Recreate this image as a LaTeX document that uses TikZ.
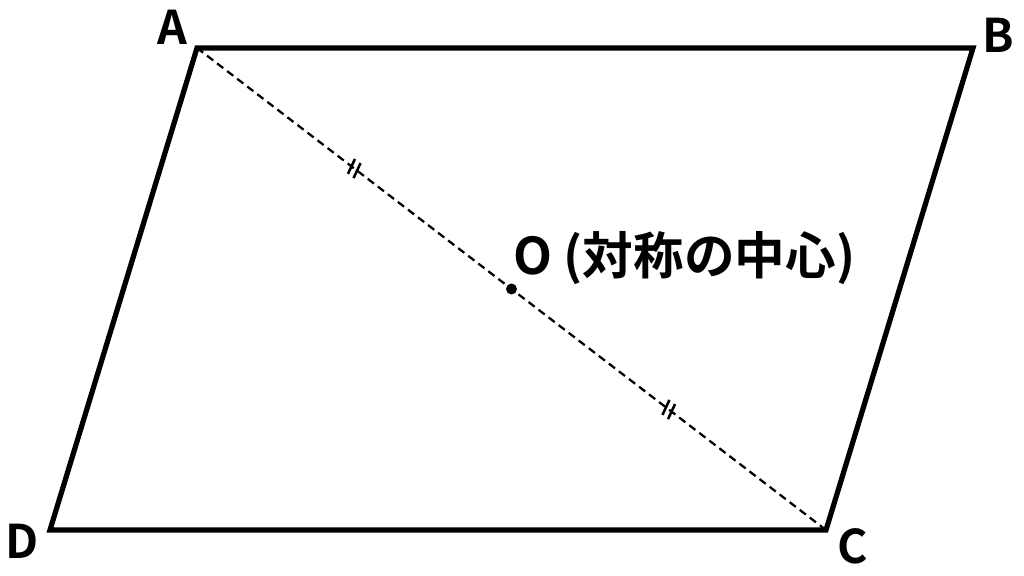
\documentclass[tikz,border=0pt]{standalone}
\usepackage{fontspec}
\setmainfont{Noto Sans CJK JP}[BoldFont={Noto Sans CJK JP Bold}]
\usetikzlibrary{calc}

\tikzset{
  side/.style = {line width=3.7pt, line join=miter},
  diag/.style = {line width=1.6pt, dash pattern=on 5.5pt off 3.5pt},
  tick/.style = {line width=1.8pt},
  vlabel/.style = {anchor=base, inner sep=0pt, font=\fontsize{33}{36}\selectfont\bfseries}
}

\begin{document}
\begin{tikzpicture}[x=0.025cm, y=-0.025cm]

\useasboundingbox (0,0) rectangle (1024,576);

\coordinate (A) at (197,48);
\coordinate (B) at (973,48);
\coordinate (C) at (826,530);
\coordinate (D) at (50,530);
\coordinate (O) at ($(A)!0.5!(C)$);

\draw [diag] (A) -- (C);
\draw [side] (A) -- (B) -- (C) -- (D) -- cycle;
\fill (O) circle (5.5);

\coordinate (t1) at ($(A)!0.25!(C)$);
\coordinate (t2) at ($(A)!0.75!(C)$);
\foreach \t in {t1,t2} {
  \foreach \s in {-1,1} {\draw [tick] ([shift={(\s*2.8,\s*2.1)}]\t) ++(-3.5,7.5) -- ++(7,-15);}
}

\node [vlabel] (labA) at (172,45) {A};
\node [vlabel] (labB) at (998,53) {B};
\node [vlabel] (labC) at (853,563) {C};
\node [vlabel] (labD) at (22,558) {D};
\node [vlabel, anchor=base west, font=\fontsize{36}{40}\selectfont\bfseries] (labO) at (513,275) {O (対称の中心)};

\end{tikzpicture}
\end{document}
